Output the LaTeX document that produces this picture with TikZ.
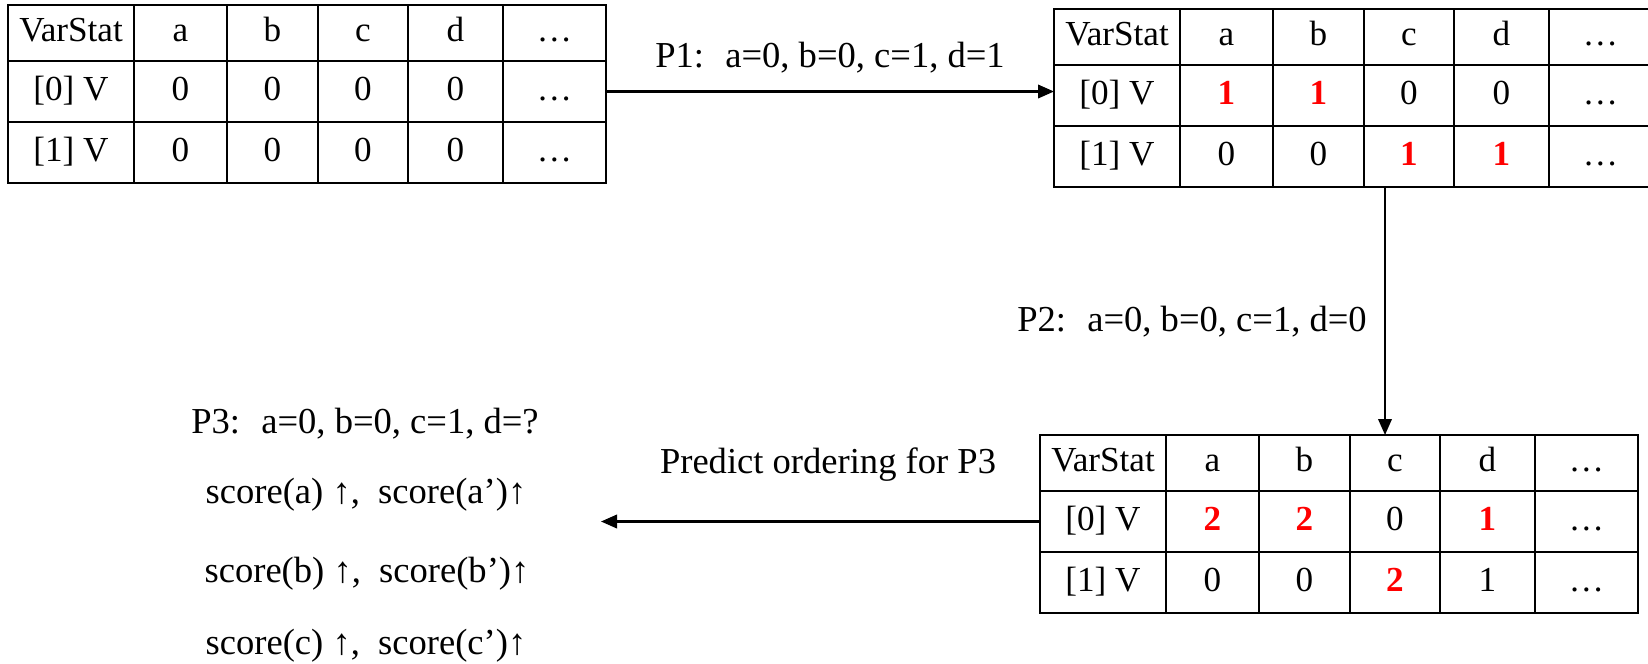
\documentclass[tikz,border=0pt]{standalone}
\usepackage{fontspec}
\setmainfont{Liberation Serif}
\usepackage{xcolor}
\usetikzlibrary{arrows.meta,positioning,calc}
\tikzset{
  cell/.style  = {draw, rectangle, inner sep=0pt, outer sep=0pt, line width=0.6pt,
                  align=center, font=\fontsize{10}{12}\selectfont,
                  text height=0.75em, text depth=0.25em},
  hcell/.style = {cell, minimum height=5.6mm},
  rcell/.style = {cell, minimum height=6.1mm},
  lbl/.style   = {font=\fontsize{10.4}{12.5}\selectfont, inner sep=1pt},
  wire/.style  = {-{Triangle[length=1.6mm,width=1.35mm]}, line width=0.6pt}
}
\newcommand{\upd}[1]{\textcolor{red}{\textbf{#1}}}

\begin{document}
\begin{tikzpicture}

\clip (0,0) rectangle (16.48,-6.63);

% --- table before P1 ---
\foreach \j/\x/\w/\hd/\ra/\rb in {0/0.00/1.26/VarStat/{[0] V}/{[1] V},
    1/1.26/0.93/a/0/0, 2/2.19/0.91/b/0/0, 3/3.10/0.90/c/0/0,
    4/4.00/0.95/d/0/0, 5/4.95/1.03/\dots/\dots/\dots} {
  \node[hcell, minimum width=\w cm] (T1h\j) at (0.08+\x+\w/2,-0.33) {\hd};
  \node[rcell, minimum width=\w cm, below=0pt of T1h\j] (T1a\j) {\ra};
  \node[rcell, minimum width=\w cm, below=0pt of T1a\j] (T1b\j) {\rb};
}

% --- table after P1 ---
\foreach \j/\x/\w/\hd/\ra/\rb in {0/0.00/1.26/VarStat/{[0] V}/{[1] V},
    1/1.26/0.93/a/\upd{1}/0, 2/2.19/0.91/b/\upd{1}/0, 3/3.10/0.90/c/0/\upd{1},
    4/4.00/0.95/d/0/\upd{1}, 5/4.95/1.03/\dots/\dots/\dots} {
  \node[hcell, minimum width=\w cm] (T2h\j) at (10.54+\x+\w/2,-0.37) {\hd};
  \node[rcell, minimum width=\w cm, below=0pt of T2h\j] (T2a\j) {\ra};
  \node[rcell, minimum width=\w cm, below=0pt of T2a\j] (T2b\j) {\rb};
}

% --- table after P2 ---
\foreach \j/\x/\w/\hd/\ra/\rb in {0/0.00/1.26/VarStat/{[0] V}/{[1] V},
    1/1.26/0.93/a/\upd{2}/0, 2/2.19/0.91/b/\upd{2}/0, 3/3.10/0.90/c/0/\upd{2},
    4/4.00/0.95/d/\upd{1}/1, 5/4.95/1.03/\dots/\dots/\dots} {
  \node[hcell, minimum width=\w cm] (T3h\j) at (10.40+\x+\w/2,-4.63) {\hd};
  \node[rcell, minimum width=\w cm, below=0pt of T3h\j] (T3a\j) {\ra};
  \node[rcell, minimum width=\w cm, below=0pt of T3a\j] (T3b\j) {\rb};
}

% --- transitions ---
\draw[wire] (T1a5.east) -- (T1a5.east -| T2a0.west);
\node[lbl] (p1) at (8.30,-0.58) {P1:~ a=0, b=0, c=1, d=1};

\coordinate (drop) at ($(T2b3.south west)+(0.21,0)$);
\draw[wire] (drop) -- (drop |- T3h3.north);
\node[lbl] (p2) at (11.92,-3.22) {P2:~ a=0, b=0, c=1, d=0};

\coordinate (predtip) at (6.01,-5.21);
\draw[wire] (T3a0.west) -- (T3a0.west -| predtip);
\node[lbl] (pred) at (8.28,-4.65) {Predict ordering for P3};

% --- prediction ---
\node[lbl] (p3) at (3.65,-4.24) {P3:~ a=0, b=0, c=1, d=?};
\node[lbl] (sa) at (3.66,-4.95) {score(a) ↑,~ score(a’)↑};
\node[lbl] (sb) at (3.67,-5.74) {score(b) ↑,~ score(b’)↑};
\node[lbl] (sc) at (3.66,-6.46) {score(c) ↑,~ score(c’)↑};

\end{tikzpicture}
\end{document}
